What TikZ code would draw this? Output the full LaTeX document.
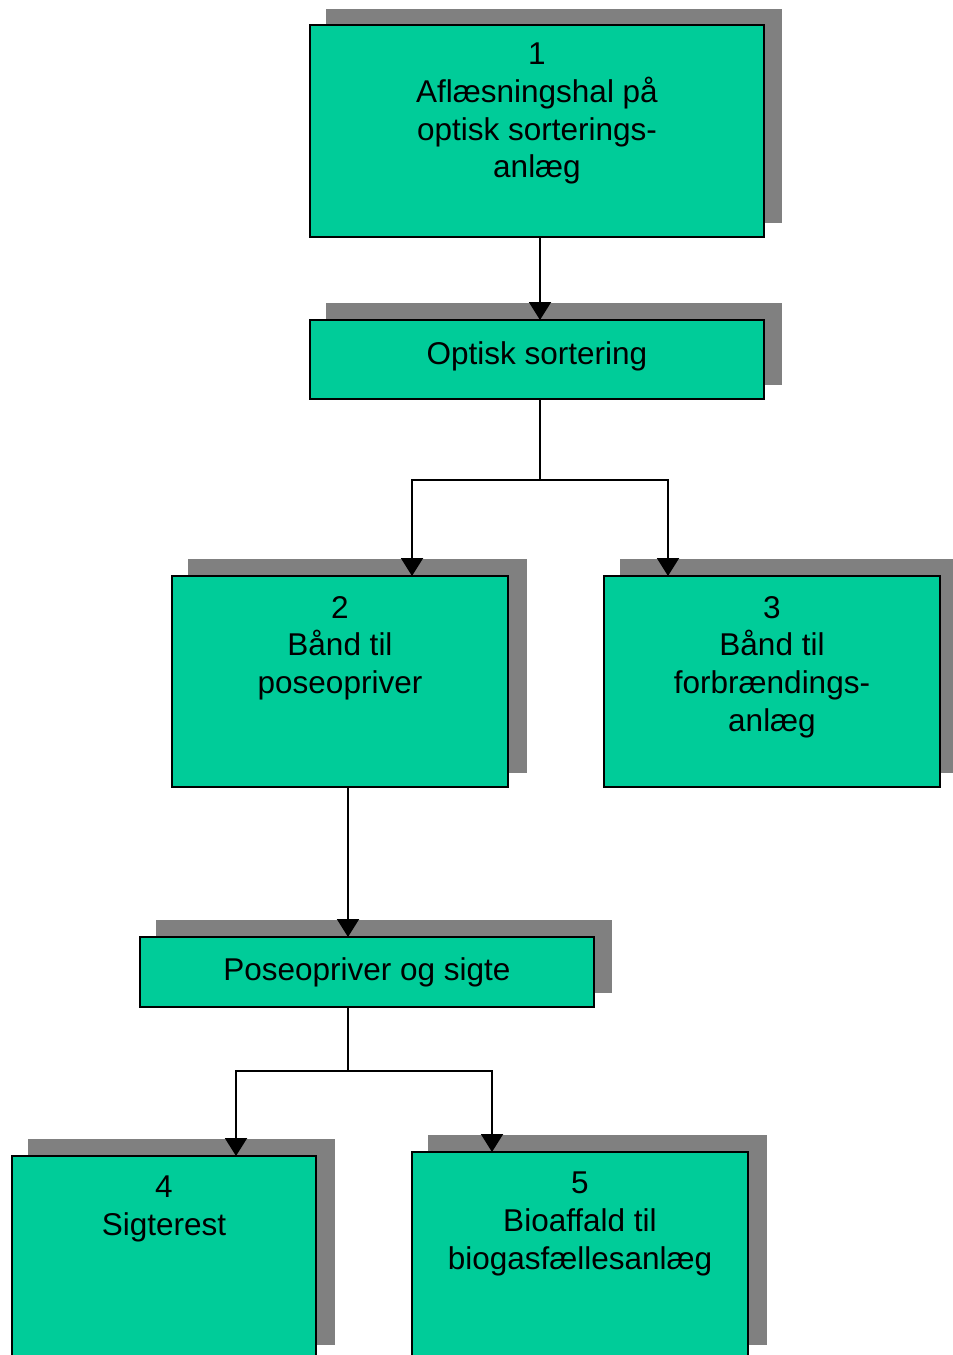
\documentclass[tikz,border=0pt]{standalone}
\usepackage{fontspec}
\setmainfont{Liberation Sans}
\usetikzlibrary{arrows.meta}
\definecolor{boxgreen}{HTML}{00CC99}
\definecolor{shadowgray}{HTML}{808080}
\begin{document}
\begin{tikzpicture}[x=1pt,y=-1pt,
  shadowbox/.style={fill=shadowgray,draw=none},
  procbox/.style={draw=black,line width=1.9pt,fill=boxgreen,inner sep=0pt,outer sep=0pt},
  boxtext/.style={anchor=north,inner sep=0pt,align=center,font=\fontsize{31.5pt}{37.7pt}\selectfont},
  arr/.style={line width=2pt,-{Triangle[width=22pt,length=18pt]}},
  conn/.style={line width=2pt}]
\clip (0,0) rectangle (953,1355);
% shadows
\fill[shadowgray] (326,9) rectangle (782,223);
\fill[shadowgray] (326,303) rectangle (782,385);
\fill[shadowgray] (188,559) rectangle (527,773);
\fill[shadowgray] (620,559) rectangle (953,773);
\fill[shadowgray] (156,920) rectangle (612,993);
\fill[shadowgray] (28,1139) rectangle (335,1345);
\fill[shadowgray] (428,1135) rectangle (767,1345);
% boxes
\node[procbox,anchor=north west,minimum width=454pt,minimum height=212pt] (B1) at (310,25) {};
\node[procbox,anchor=north west,minimum width=454pt,minimum height=79pt] (Bopt) at (310,320) {};
\node[procbox,anchor=north west,minimum width=336pt,minimum height=211pt] (B2) at (172,576) {};
\node[procbox,anchor=north west,minimum width=336pt,minimum height=211pt] (B3) at (604,576) {};
\node[procbox,anchor=north west,minimum width=454pt,minimum height=70pt] (Bpose) at (140,937) {};
\node[procbox,anchor=north west,minimum width=304pt,minimum height=220pt] (B4) at (12,1156) {};
\node[procbox,anchor=north west,minimum width=336pt,minimum height=224pt] (B5) at (412,1152) {};
% texts
\node[boxtext] (T1) at ([yshift=-18pt]B1.north) {1\\Aflæsningshal på\\optisk sorterings-\\anlæg};
\node[boxtext] (Topt) at ([yshift=-21pt]Bopt.north) {Optisk sortering};
\node[boxtext] (T2) at ([yshift=-20pt]B2.north) {2\\Bånd til\\poseopriver};
\node[boxtext] (T3) at ([yshift=-20pt]B3.north) {3\\Bånd til\\forbrændings-\\anlæg};
\node[boxtext] (Tpose) at ([yshift=-20pt]Bpose.north) {Poseopriver og sigte};
\node[boxtext] (T4) at ([yshift=-20pt]B4.north) {4\\Sigterest};
\node[boxtext] (T5) at ([yshift=-20pt]B5.north) {5\\Bioaffald til\\biogasfællesanlæg};
% connectors
\draw[arr] ([xshift=3pt]B1.south) -- ([xshift=3pt]Bopt.north);
\draw[arr] ([xshift=3pt]Bopt.south) -- ++(0,81) -| ([xshift=72pt]B2.north);
\draw[arr] ([xshift=3pt]Bopt.south) -- ++(0,81) -| ([xshift=-104pt]B3.north);
\draw[arr] ([xshift=8pt]B2.south) -- ([xshift=-19pt]Bpose.north);
\draw[arr] ([xshift=-19pt]Bpose.south) -- ++(0,64) -| ([xshift=72pt]B4.north);
\draw[arr] ([xshift=-19pt]Bpose.south) -- ++(0,64) -| ([xshift=-88pt]B5.north);
\end{tikzpicture}
\end{document}
